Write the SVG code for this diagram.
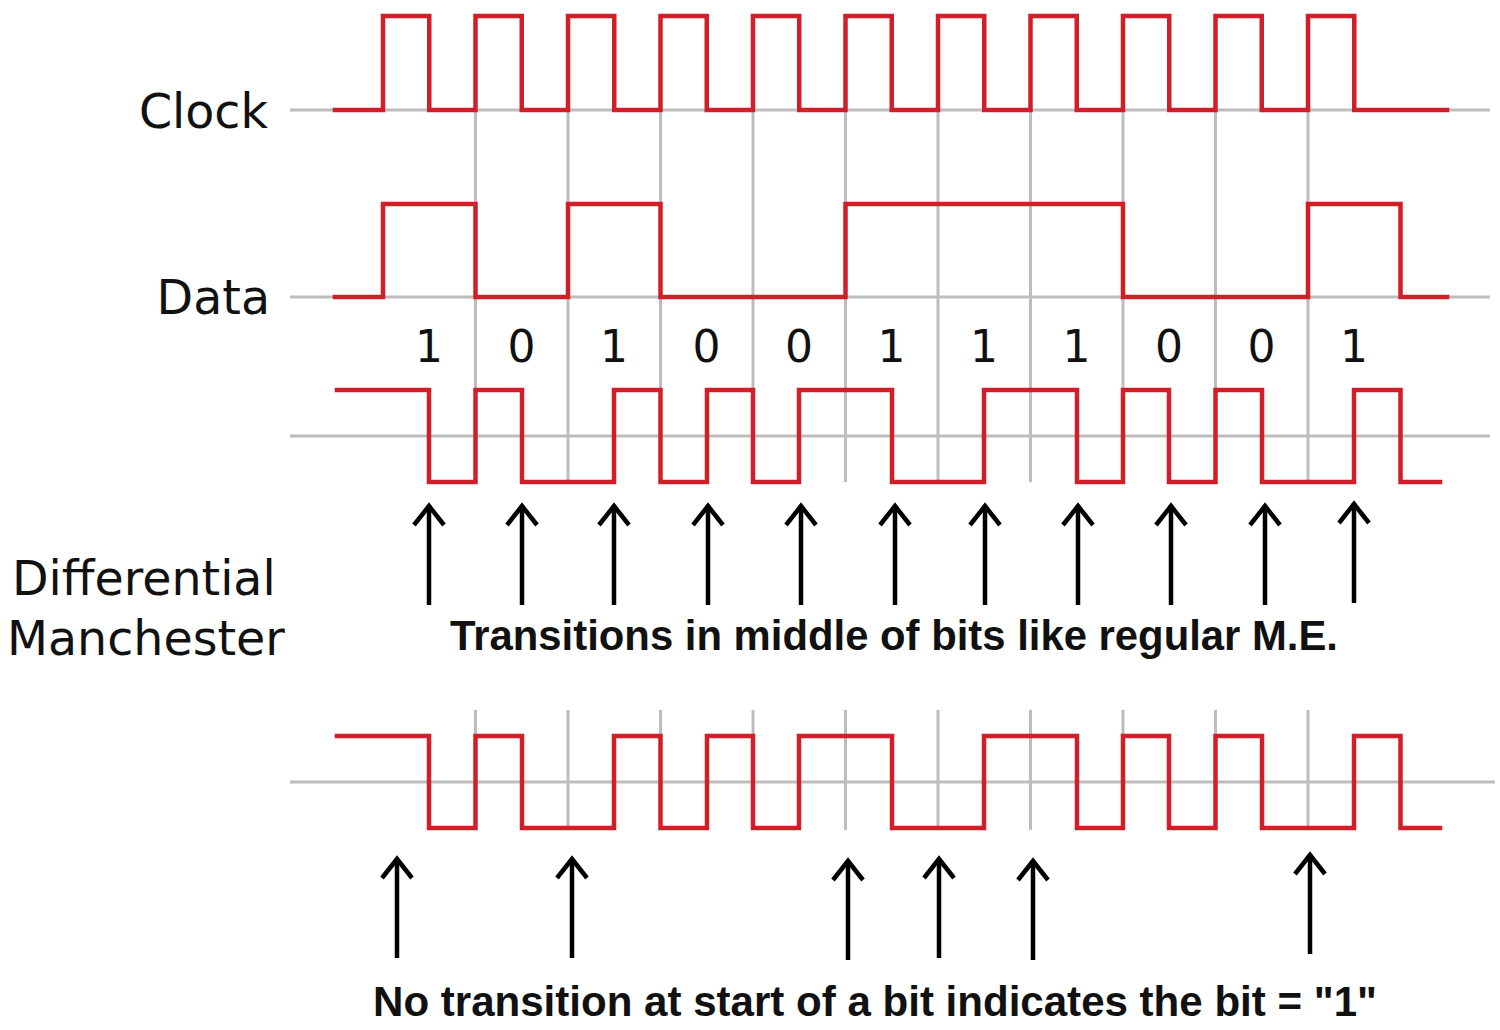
<svg xmlns="http://www.w3.org/2000/svg" xmlns:xlink="http://www.w3.org/1999/xlink" width="1500" height="1030" viewBox="0 0 1500 1030">
<style>
.grid{stroke:#bdbdbd;stroke-width:3;fill:none}
.wave{stroke:#d01f28;stroke-width:4.5;fill:none;stroke-linejoin:miter;stroke-linecap:square}
.lbl{font-family:"DejaVu Sans",sans-serif;font-size:47.5px;fill:#111}
.dig{font-family:"DejaVu Sans",sans-serif;font-size:44px;fill:#111;text-anchor:middle}
.note{font-family:"Liberation Sans",Arial,sans-serif;font-weight:bold;font-size:42px;fill:#111}
.arr{stroke:#000;stroke-width:4.5;fill:none}
</style>
<defs>
<g id="arrow"><line x1="0" y1="2" x2="0" y2="102" class="arr"/><polyline points="-15,22 0,3 15,22" class="arr"/></g>
<path id="dm" d="M337,390 H429 V482 H475.5 V390 H522 V482 H614 V390 H660.5 V482 H707 V390 H753 V482 H799 V390 H892 V482 H984 V390 H1077 V482 H1123 V390 H1169 V482 H1215.5 V390 H1262 V482 H1354 V390 H1400.5 V482 H1440"/>
</defs>
<rect width="1500" height="1030" fill="#fff"/>
<g id="grid">
<line class="grid" x1="290" y1="110" x2="1490" y2="110"/>
<line class="grid" x1="290" y1="297" x2="1490" y2="297"/>
<line class="grid" x1="290" y1="436" x2="1490" y2="436"/>
<line class="grid" x1="290" y1="782" x2="1495" y2="782"/>
<path class="grid" d="M475.5,110V482M568,110V482M660.5,110V482M753,110V482M845.5,110V482M938,110V482M1030.5,110V482M1123,110V482M1215.5,110V482M1308,110V482"/>
<path class="grid" d="M475.5,710V830M568,710V830M660.5,710V830M753,710V830M845.5,710V830M938,710V830M1030.5,710V830M1123,710V830M1215.5,710V830M1308,710V830"/>
</g>
<g id="clock">
<text class="lbl" x="268" y="128" text-anchor="end">Clock</text>
<path class="wave" d="M335,110 H383 v-94 h46.25 v94 h46.25 v-94 h46.25 v94 h46.25 v-94 h46.25 v94 h46.25 v-94 h46.25 v94 h46.25 v-94 h46.25 v94 h46.25 v-94 h46.25 v94 h46.25 v-94 h46.25 v94 h46.25 v-94 h46.25 v94 h46.25 v-94 h46.25 v94 h46.25 v-94 h46.25 v94 h46.25 v-94 h46.25 v94 H1447"/>
</g>
<g id="data">
<text class="lbl" x="270" y="314" text-anchor="end">Data</text>
<path class="wave" d="M335,297 H383 V204 H475.5 V297 H568 V204 H660.5 V297 H845.5 V204 H1123 V297 H1308 V204 H1400.5 V297 H1447"/>
</g>
<g id="bits">
<text class="dig" x="429" y="362">1</text>
<text class="dig" x="521.5" y="362">0</text>
<text class="dig" x="614" y="362">1</text>
<text class="dig" x="706.5" y="362">0</text>
<text class="dig" x="799" y="362">0</text>
<text class="dig" x="891.5" y="362">1</text>
<text class="dig" x="984" y="362">1</text>
<text class="dig" x="1076.5" y="362">1</text>
<text class="dig" x="1169" y="362">0</text>
<text class="dig" x="1261.5" y="362">0</text>
<text class="dig" x="1354" y="362">1</text>
</g>
<g id="dm-label">
<text class="lbl" x="12" y="595">Differential</text>
<text class="lbl" x="7" y="655">Manchester</text>
</g>
<g id="dm1"><use xlink:href="#dm" class="wave"/></g>
<g id="dm2"><use xlink:href="#dm" class="wave" transform="translate(0,346)"/></g>
<g id="connectors">
<use xlink:href="#arrow" x="429" y="503"/>
<use xlink:href="#arrow" x="522" y="503"/>
<use xlink:href="#arrow" x="614" y="503"/>
<use xlink:href="#arrow" x="708" y="503"/>
<use xlink:href="#arrow" x="801" y="503"/>
<use xlink:href="#arrow" x="895" y="503"/>
<use xlink:href="#arrow" x="985" y="503"/>
<use xlink:href="#arrow" x="1078" y="503"/>
<use xlink:href="#arrow" x="1171" y="503"/>
<use xlink:href="#arrow" x="1265" y="503"/>
<use xlink:href="#arrow" x="1354" y="501"/>
<use xlink:href="#arrow" x="397" y="856"/>
<use xlink:href="#arrow" x="572" y="856"/>
<use xlink:href="#arrow" x="848" y="858"/>
<use xlink:href="#arrow" x="939" y="856"/>
<use xlink:href="#arrow" x="1033" y="858"/>
<use xlink:href="#arrow" x="1310" y="852"/>
</g>
<g id="notes">
<text class="note" x="450" y="650" textLength="888" lengthAdjust="spacingAndGlyphs">Transitions in middle of bits like regular M.E.</text>
<text class="note" x="373" y="1016" textLength="1004" lengthAdjust="spacingAndGlyphs">No transition at start of a bit indicates the bit = "1"</text>
</g>
</svg>
